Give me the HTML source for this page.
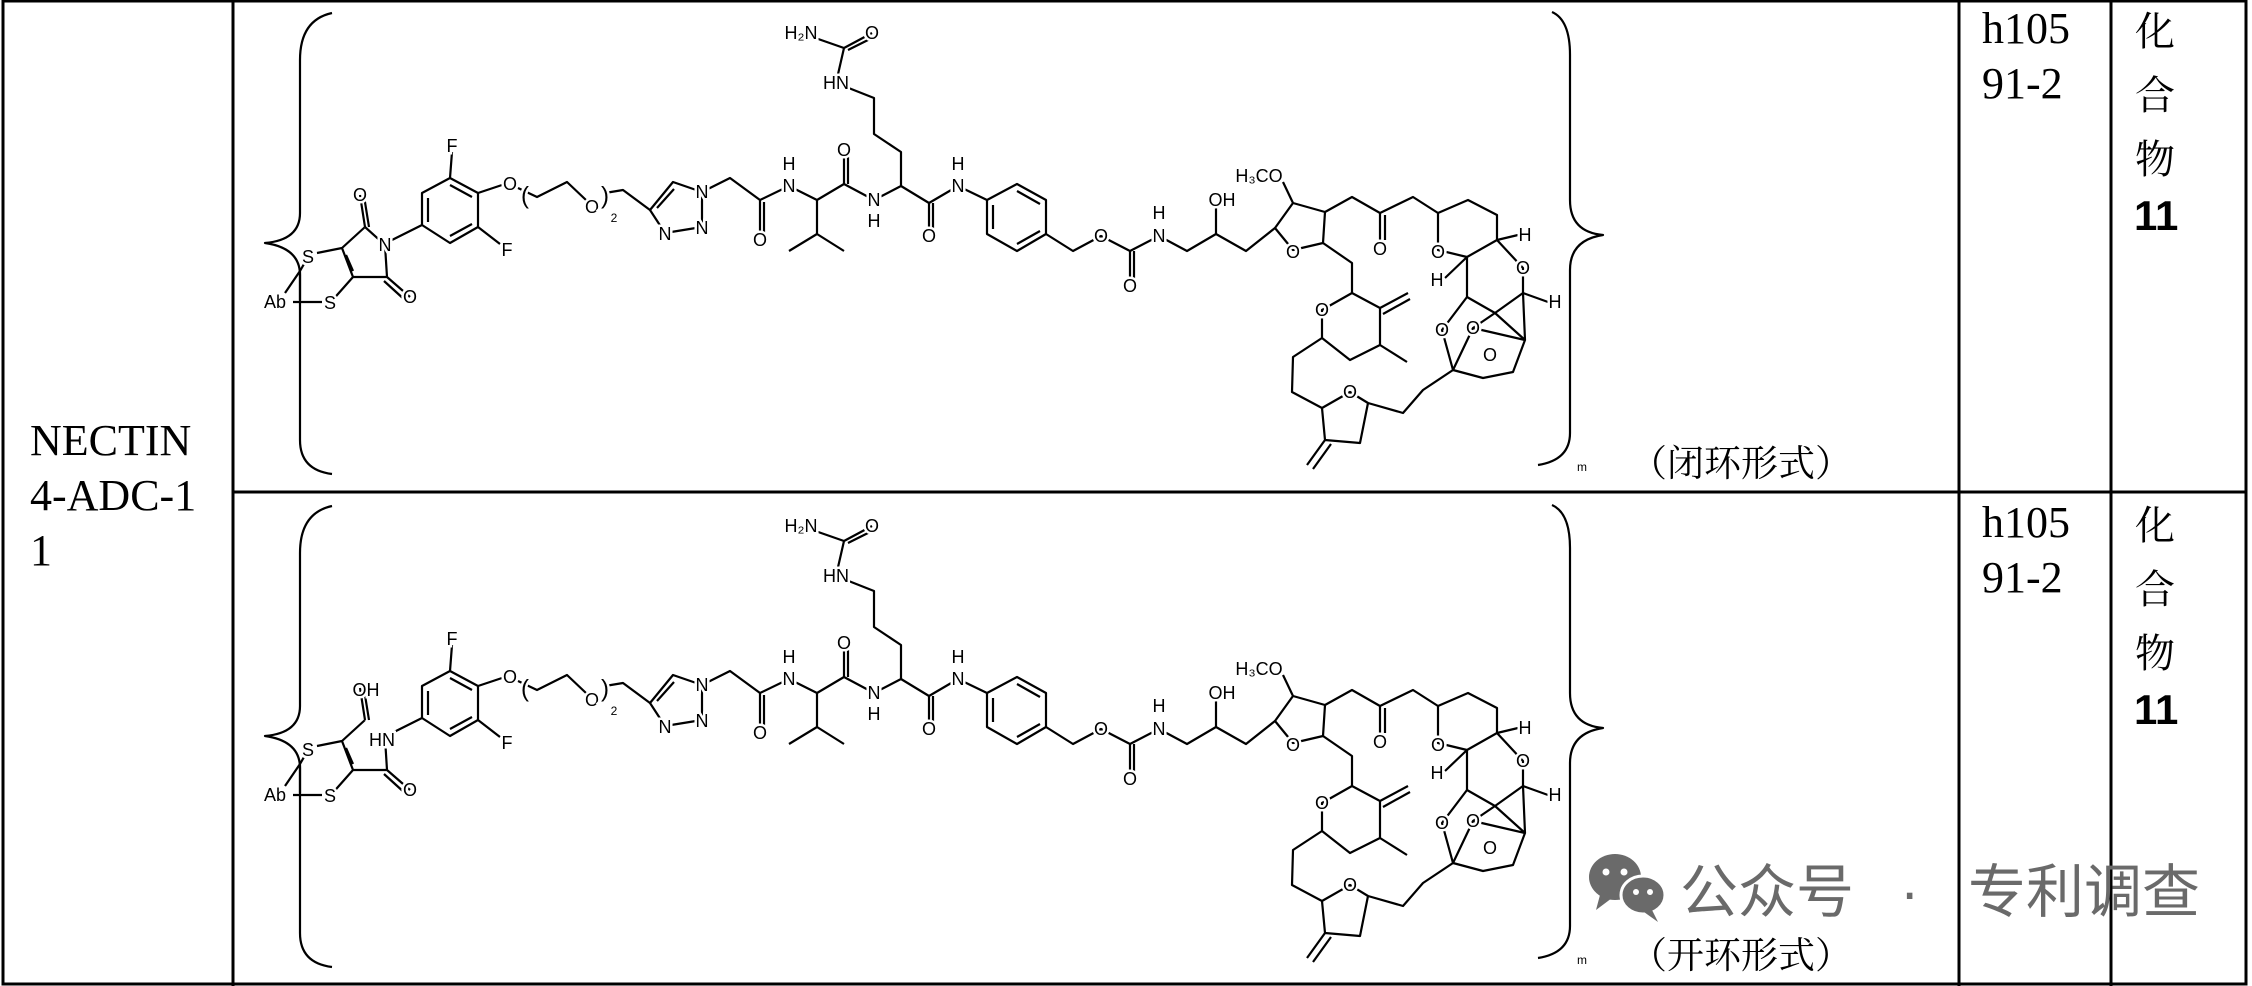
<!DOCTYPE html>
<html><head><meta charset="utf-8">
<style>
html,body{margin:0;padding:0;background:#fff;}
svg{display:block;}
.b{fill:none;stroke:#000;stroke-width:2.2;stroke-linejoin:round;}
.t{font-family:"Liberation Sans",sans-serif;font-size:18px;fill:#000;text-anchor:middle;dominant-baseline:central;paint-order:stroke;stroke:#fff;stroke-width:5px;}
.s{font-size:12px;}
.serif{font-family:"Liberation Serif","Noto Serif CJK SC",serif;fill:#000;}
.cjk{font-family:"Liberation Serif","Noto Serif CJK SC",serif;fill:#000;}
.wm{font-family:"Liberation Sans","Noto Sans CJK SC",sans-serif;fill:#6a6a6a;}
</style></head><body>
<svg width="2252" height="986" viewBox="0 0 2252 986" xmlns="http://www.w3.org/2000/svg">
<defs>
<g id="mol">
<path class="b" d="M300,271 L308,257 M300,271 L285,293 M293,302 L322,302 M300,271 L300,300"/>
<path class="b" d="M317,253 L342,248 L353,277 L330,303 M346,255 L353,271 M342,248 L365,227 M365,227 L360,195 M369,227 L364,196 M387,277 L410,297 M384,281 L406,301 M353,277 L387,277 M385,245 L387,277"/>
<path class="b" d="M392,240 L422,225 M422,225 L422,193 L450,178 L478,193 L478,227 L450,243 Z M428,198 L428,222 M450,185 L472,197 M450,236 L472,224 M450,178 L452,152 M478,227 L500,244 M478,193 L502,185"/>
<path class="b" d="M518,188 L537,197 L567,182 L586,200 M605,193 L623,190 L650,210"/>
<path class="b" d="M650,210 L673,182 L702,192 L702,227 L665,233 Z M657,208 L674,189"/>
<path class="b" d="M702,192 L730,178 L760,200 L760,234 M764,202 L764,234 M760,200 L789,186 L817,200 L817,234 L789,251 M817,234 L844,251 M817,200 L844,184 L844,152 M848,184 L848,152 M844,184 L874,200 L901,186 L901,152 L874,134 L874,98 L836,83 M836,83 L844,48 L872,33 M848,50 L872,38 M844,48 L801,33"/>
<path class="b" d="M901,186 L929,203 L929,232 M933,203 L933,232 M929,203 L958,186 L987,200 M987,200 L1017,184 L1046,200 L1046,234 L1017,251 L987,234 Z M993,205 L993,229 M1017,191 L1040,204 M1017,244 L1040,231 M1046,234 L1073,251 L1101,236 L1130,251 L1130,282 M1134,251 L1134,282 M1130,251 L1159,236 L1187,251 L1216,234 L1216,208 M1216,234 L1246,251 L1275,228"/>
<path class="b" d="M1275,228 L1293,203 L1325,212 L1323,243 L1293,250 Z M1293,203 L1283,182"/>
<path class="b" d="M1325,212 L1352,197 L1380,213 L1413,197 L1438,213 M1380,213 L1380,240 M1385,215 L1385,240"/>
<path class="b" d="M1438,213 L1468,200 L1497,215 L1497,240 L1467,257 L1438,250 Z M1497,240 L1518,235 M1497,240 L1523,268 L1523,293 L1495,313 L1467,297 L1467,257 M1467,257 L1445,278 M1523,293 L1548,302"/>
<path class="b" d="M1467,297 L1442,330 L1453,370 M1495,313 L1473,328 L1453,370 M1495,313 L1525,340 M1523,293 L1525,340 M1473,328 L1525,340 L1513,372 L1483,378 L1453,370"/>
<path class="b" d="M1453,370 L1423,390 L1403,413 L1368,403 M1368,403 L1350,392 L1322,408 L1325,440 L1360,443 Z M1325,440 L1307,465 M1331,444 L1313,469"/>
<path class="b" d="M1322,408 L1292,392 L1293,357 L1322,338 M1322,338 L1322,310 L1352,293 L1380,308 L1380,345 L1350,360 Z M1380,308 L1408,293 M1383,314 L1410,299 M1380,345 L1407,362 M1352,293 L1352,263 L1323,243"/>
<path class="b" d="M332,13 Q300,20 300,60 L300,213 Q300,240 265,243 Q300,248 300,275 L300,440 Q300,470 332,474"/>
<path class="b" d="M1552,12 Q1570,20 1570,55 L1570,200 Q1570,232 1603,235 Q1570,240 1570,270 L1570,433 Q1570,460 1538,465"/>
</g>
</defs>

<rect x="3" y="1" width="2243" height="983" fill="none" stroke="#000" stroke-width="3"/>
<line x1="233" y1="0" x2="233" y2="986" stroke="#000" stroke-width="3"/>
<line x1="1959" y1="0" x2="1959" y2="986" stroke="#000" stroke-width="3"/>
<line x1="2111" y1="0" x2="2111" y2="986" stroke="#000" stroke-width="3"/>
<line x1="233" y1="492" x2="2246" y2="492" stroke="#000" stroke-width="3"/>

<text class="serif" x="30" y="455" font-size="44">NECTIN</text>
<text class="serif" x="30" y="510" font-size="44">4-ADC-1</text>
<text class="serif" x="30" y="565" font-size="44">1</text>

<text class="serif" x="1982" y="43" font-size="44">h105</text>
<text class="serif" x="1982" y="98" font-size="44">91-2</text>
<text class="cjk" x="2135" y="45" font-size="40">化</text>
<text class="cjk" x="2135" y="109" font-size="40">合</text>
<text class="cjk" x="2135" y="173" font-size="40">物</text>
<text x="2134" y="230" font-size="42" font-weight="bold" font-family="Liberation Sans, sans-serif">11</text>

<text class="serif" x="1982" y="537" font-size="44">h105</text>
<text class="serif" x="1982" y="592" font-size="44">91-2</text>
<text class="cjk" x="2135" y="539" font-size="40">化</text>
<text class="cjk" x="2135" y="603" font-size="40">合</text>
<text class="cjk" x="2135" y="667" font-size="40">物</text>
<text x="2134" y="724" font-size="42" font-weight="bold" font-family="Liberation Sans, sans-serif">11</text>

<text class="cjk" x="1630" y="476" font-size="37">（闭环形式）</text>
<text class="cjk" x="1630" y="968" font-size="37">（开环形式）</text>

<use href="#mol"/>
<path class="b" d="M365,227 L385,245"/>
<g class="t">
<text x="308" y="257">S</text><text x="330" y="303">S</text><text x="275" y="302">Ab</text>
<text x="360" y="195">O</text><text x="385" y="245">N</text><text x="410" y="297">O</text>
<text x="452" y="146">F</text><text x="507" y="250">F</text><text x="510" y="184">O</text>
<text x="525" y="196" style="font-size:24px">(</text><text x="592" y="207">O</text><text x="605" y="196" style="font-size:24px">)</text><text class="s" x="614" y="218">2</text>
<text x="702" y="192">N</text><text x="702" y="228">N</text><text x="665" y="234">N</text>
<text x="760" y="240">O</text><text x="789" y="186">N</text><text x="789" y="164">H</text>
<text x="844" y="150">O</text><text x="874" y="200">N</text><text x="874" y="221">H</text>
<text x="836" y="83">HN</text><text x="801" y="33">H₂N</text><text x="872" y="33">O</text>
<text x="929" y="236">O</text><text x="958" y="186">N</text><text x="958" y="164">H</text>
<text x="1101" y="236">O</text><text x="1130" y="286">O</text><text x="1159" y="236">N</text><text x="1159" y="213">H</text>
<text x="1222" y="200">OH</text><text x="1259" y="176">H₃CO</text>
<text x="1293" y="252">O</text><text x="1380" y="249">O</text><text x="1438" y="252">O</text>
<text x="1525" y="235">H</text><text x="1523" y="268">O</text><text x="1437" y="280">H</text><text x="1555" y="302">H</text>
<text x="1442" y="330">O</text><text x="1473" y="328">O</text><text x="1490" y="355">O</text>
<text x="1350" y="392">O</text><text x="1322" y="310">O</text>
<text class="s" x="1582" y="467">m</text>
</g>

<use href="#mol" transform="translate(0,493)"/>
<g class="t" transform="translate(0,493)">
<text x="308" y="257">S</text><text x="330" y="303">S</text><text x="275" y="302">Ab</text>
<text x="366" y="197">OH</text><text x="382" y="247">HN</text><text x="410" y="297">O</text>
<text x="452" y="146">F</text><text x="507" y="250">F</text><text x="510" y="184">O</text>
<text x="525" y="196" style="font-size:24px">(</text><text x="592" y="207">O</text><text x="605" y="196" style="font-size:24px">)</text><text class="s" x="614" y="218">2</text>
<text x="702" y="192">N</text><text x="702" y="228">N</text><text x="665" y="234">N</text>
<text x="760" y="240">O</text><text x="789" y="186">N</text><text x="789" y="164">H</text>
<text x="844" y="150">O</text><text x="874" y="200">N</text><text x="874" y="221">H</text>
<text x="836" y="83">HN</text><text x="801" y="33">H₂N</text><text x="872" y="33">O</text>
<text x="929" y="236">O</text><text x="958" y="186">N</text><text x="958" y="164">H</text>
<text x="1101" y="236">O</text><text x="1130" y="286">O</text><text x="1159" y="236">N</text><text x="1159" y="213">H</text>
<text x="1222" y="200">OH</text><text x="1259" y="176">H₃CO</text>
<text x="1293" y="252">O</text><text x="1380" y="249">O</text><text x="1438" y="252">O</text>
<text x="1525" y="235">H</text><text x="1523" y="268">O</text><text x="1437" y="280">H</text><text x="1555" y="302">H</text>
<text x="1442" y="330">O</text><text x="1473" y="328">O</text><text x="1490" y="355">O</text>
<text x="1350" y="392">O</text><text x="1322" y="310">O</text>
<text class="s" x="1582" y="467">m</text>
</g>

<g fill="#6a6a6a">
<ellipse cx="1615" cy="877" rx="26" ry="23"/>
<path d="M1600,895 L1596,910 L1612,898 Z"/>
<ellipse cx="1643" cy="895" rx="22" ry="19" stroke="#fff" stroke-width="3"/>
<path d="M1652,910 L1658,922 L1644,912 Z"/>
<circle cx="1606" cy="872" r="3.5" fill="#fff"/><circle cx="1624" cy="872" r="3.5" fill="#fff"/>
<circle cx="1636" cy="892" r="3" fill="#fff"/><circle cx="1650" cy="892" r="3" fill="#fff"/>
</g>
<text class="wm" x="1680" y="912" font-size="58">公众号</text>
<text class="wm" x="1900" y="912" font-size="58">·</text>
<text class="wm" x="1968" y="912" font-size="58">专利调查</text>
</svg>
</body></html>
